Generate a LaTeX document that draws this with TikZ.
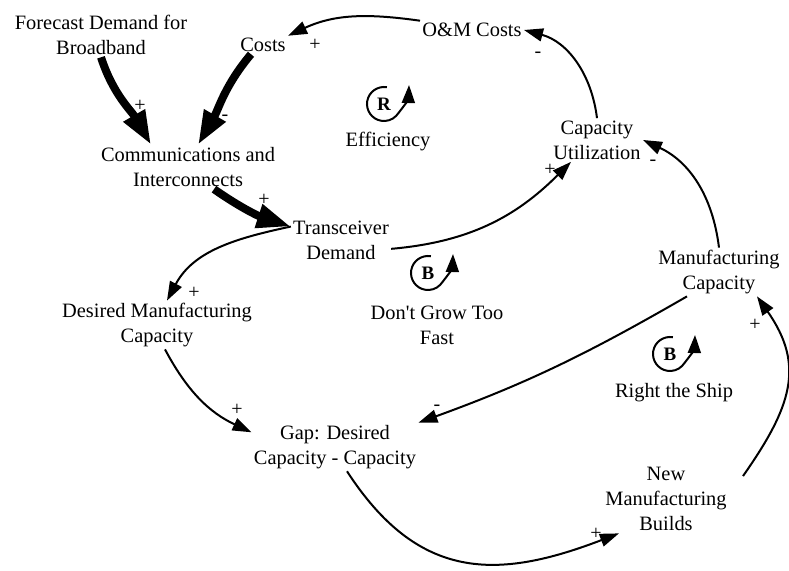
\documentclass[tikz,border=0pt]{standalone}
\usepackage{fontspec}
\setmainfont{Liberation Serif}
\usetikzlibrary{arrows.meta}

\begin{document}
\begin{tikzpicture}[x=0.5pt,y=0.5pt,
	var/.style={align=center,inner sep=1pt,font=\fontsize{10.2}{12.6}\selectfont},
	sgn/.style={inner sep=0pt,font=\fontsize{10}{12}\selectfont},
	lnk/.style={line width=1pt,-{Triangle[length=9.5pt,width=6.5pt]}},
	fat/.style={line width=4pt,-{Triangle[length=17pt,width=11.5pt]}},
	loopar/.style={line width=1pt,-{Triangle[length=9pt,width=6.5pt]}},
	loopsym/.style={inner sep=0pt,font=\fontsize{9.5}{10}\selectfont\bfseries}]
	\useasboundingbox (0,0) rectangle (789,-571);
	% Variables
	\node (fore) [var] at (101,-35) {Forecast Demand for\\Broadband};
	\node (costs) [var] at (263,-45) {Costs};
	\node (om) [var] at (472,-30) {O\&M Costs};
	\node (comm) [var] at (188,-167) {Communications and\\Interconnects};
	\node (util) [var] at (597,-140) {Capacity\\Utilization};
	\node (trans) [var] at (341,-240) {Transceiver\\Demand};
	\node (dmc) [var] at (157,-325) {Desired Manufacturing\\Capacity};
	\node (mcap) [var] at (719,-272) {Manufacturing\\Capacity};
	\node (gap) [var] at (335,-447) {Gap: Desired\\Capacity - Capacity};
	\node (nmb) [var] at (666,-499) {New\\Manufacturing\\Builds};

	% Loops
	\node (rloop) [loopsym] at (384,-104) {R};
	\node (eff) [var] at (388,-142) {Efficiency};
	\draw[loopar] (rloop.center) ++(80:17) arc[start angle=80,end angle=315,radius=17] to[out=50,in=-92] ++(13,31);
	\node (bloop1) [loopsym] at (428,-273) {B};
	\node (dgtf) [var] at (437,-325) {Don\textquotesingle t Grow Too\\Fast};
	\draw[loopar] (bloop1.center) ++(80:17) arc[start angle=80,end angle=315,radius=17] to[out=50,in=-92] ++(13,31);
	\node (bloop2) [loopsym] at (670,-354) {B};
	\node (rts) [var] at (674,-393) {Right the Ship};
	\draw[loopar] (bloop2.center) ++(80:17) arc[start angle=80,end angle=315,radius=17] to[out=50,in=-92] ++(13,31);

	% Upper links
	\draw[lnk] (om.north west) to[out=172,in=25] (costs.north east);
	\draw[lnk] (util.north) to[out=97,in=-15] (om.east);
	\draw[lnk] (trans.-10) to[out=5,in=-135] ([xshift=10pt]util.south west);
	\draw[lnk] (mcap.north) to[out=97,in=-25] (util.east);

	% Heavy links
	\draw[fat] (fore.south) to[out=-72,in=120] (comm.149);
	\draw[fat] ([xshift=-6pt]costs.south) to[out=-130,in=60] ([xshift=5pt]comm.north);
	\draw[fat] ([xshift=13pt]comm.south) to[out=-35,in=162] (trans.165);

	% Lower links
	\draw[lnk] (trans.165) to[out=192,in=62] ([xshift=5pt]dmc.north);
	\draw[lnk] ([xshift=4pt]dmc.south) to[out=-62,in=155] (gap.170);
	\draw[lnk] ([xshift=-16pt]mcap.south) to[out=-150,in=20] (gap.north east);
	\draw[lnk] ([xshift=6pt]gap.south) to[out=-57,in=-159,looseness=1.2] ([xshift=8pt]nmb.south west);
	\draw[lnk] ([xshift=7pt]nmb.20) to[out=55,in=-55,looseness=1.2] ([xshift=19pt]mcap.south);

	% Signs
	\node (s1) [sgn] at (315,-45) {+};
	\node (s2) [sgn] at (140,-106) {+};
	\node (s3) [sgn] at (225,-118) {-};
	\node (s4) [sgn] at (264,-200) {+};
	\node (s5) [sgn] at (194,-293) {+};
	\node (s6) [sgn] at (538,-55) {-};
	\node (s7) [sgn] at (550,-170) {+};
	\node (s8) [sgn] at (653,-163) {-};
	\node (s9) [sgn] at (237,-410) {+};
	\node (s10) [sgn] at (437,-408) {-};
	\node (s11) [sgn] at (755,-325) {+};
	\node (s12) [sgn] at (596,-534) {+};
\end{tikzpicture}
\end{document}
